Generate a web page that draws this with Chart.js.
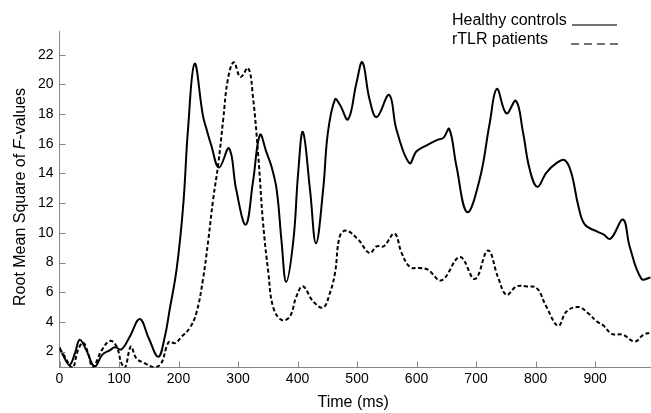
<!DOCTYPE html>
<html>
<head>
<meta charset="utf-8">
<script src="https://cdn.jsdelivr.net/npm/chart.js@4/dist/chart.umd.min.js"></script>
<style>
  html, body { margin: 0; padding: 0; background: #fff; }
  #wrap { width: 651px; height: 413px; position: relative; }
</style>
</head>
<body>
<div id="wrap"><canvas id="chart"></canvas></div>
<script>
// time points (ms) and RMS of F-values
const healthyTime = [0, 8, 17, 26, 34, 45, 59, 72, 85, 93, 104, 118, 135, 150, 166, 177, 185, 197, 208, 216, 227, 241, 247, 255, 268, 285, 297, 313, 325, 337, 348, 356, 365, 373, 381, 393, 401, 409, 421, 431, 443, 451, 463, 471, 485, 499, 509, 521, 533, 554, 566, 588, 600, 617, 634, 645, 655, 667, 685, 706, 723, 735, 751, 767, 779, 790, 803, 818, 835, 849, 860, 872, 883, 903, 914, 926, 947, 958, 978, 993];
const healthyValues = [2.3, 1.6, 1.1, 1.9, 2.8, 2.1, 1.0, 1.8, 2.1, 2.3, 2.15, 3.0, 4.2, 2.9, 1.65, 3.0, 4.8, 7.6, 11.9, 17.0, 21.4, 17.9, 17.0, 15.9, 14.4, 15.7, 12.9, 10.55, 13.4, 16.6, 15.4, 14.5, 12.9, 9.5, 6.7, 9.5, 14.0, 16.8, 12.9, 9.3, 12.9, 16.75, 19.0, 18.65, 17.65, 20.1, 21.5, 19.0, 17.8, 19.3, 17.0, 14.7, 15.5, 15.9, 16.25, 16.4, 17.0, 14.5, 11.4, 13.6, 17.4, 19.7, 18.05, 18.9, 16.75, 14.3, 13.1, 14.05, 14.7, 14.9, 14.05, 11.8, 10.55, 10.1, 9.9, 9.6, 10.9, 9.1, 6.9, 7.0];

const patientTime = [0, 9, 18, 23, 31, 40, 48, 56, 71, 85, 96, 104, 110, 120, 129, 143, 160, 171, 180, 185, 194, 205, 219, 230, 241, 250, 258, 267, 275, 283, 293, 304, 317, 325, 334, 342, 351, 359, 373, 387, 398, 409, 426, 443, 454, 463, 471, 482, 502, 521, 533, 545, 563, 575, 589, 606, 619, 642, 673, 698, 720, 737, 751, 768, 785, 802, 818, 838, 852, 872, 888, 903, 914, 928, 947, 967, 981, 993];
const patientValues = [2.2, 1.66, 1.0, 0.9, 2.1, 2.6, 1.9, 0.95, 2.1, 2.72, 2.34, 1.22, 0.9, 2.34, 1.55, 1.22, 0.95, 1.22, 2.34, 2.68, 2.57, 3.0, 3.6, 4.6, 6.84, 9.5, 12.2, 14.7, 17.6, 20.35, 21.5, 20.5, 21.1, 19.2, 15.2, 10.7, 7.3, 5.0, 4.14, 4.36, 5.7, 6.4, 5.4, 4.97, 5.9, 7.3, 9.77, 10.15, 9.54, 8.64, 9.09, 9.1, 9.95, 8.64, 7.7, 7.63, 7.52, 6.8, 8.37, 6.89, 8.82, 7.0, 5.83, 6.39, 6.39, 6.28, 5.04, 3.74, 4.7, 5.0, 4.6, 4.03, 3.76, 3.2, 3.13, 2.68, 3.13, 3.28];

const seriesLabels = ['Healthy controls', 'rTLR patients'];
const xTicks = [0, 100, 200, 300, 400, 500, 600, 700, 800, 900];
const yTicks = [2, 4, 6, 8, 10, 12, 14, 16, 18, 20, 22];

const FONT = '"Liberation Sans", Arial, sans-serif';
const AXIS_GREY = '#858585';

function toPoints(xs, ys) {
  return xs.map((x, i) => ({ x: x, y: ys[i] }));
}

// axis titles, inward tick marks and the text legend
const decorations = {
  id: 'decorations',
  afterDraw(chart) {
    const ctx = chart.ctx;
    const area = chart.chartArea;
    const xs = chart.scales.x;
    const ys = chart.scales.y;

    ctx.save();
    ctx.strokeStyle = AXIS_GREY;
    ctx.lineWidth = 1;
    ctx.beginPath();
    xTicks.forEach(v => {
      const px = Math.round(xs.getPixelForValue(v)) + 0.5;
      ctx.moveTo(px, area.bottom);
      ctx.lineTo(px, area.bottom - 6);
    });
    yTicks.forEach(v => {
      const py = Math.round(ys.getPixelForValue(v)) + 0.5;
      ctx.moveTo(area.left, py);
      ctx.lineTo(area.left + 6, py);
    });
    ctx.stroke();

    // x title
    ctx.fillStyle = '#000';
    ctx.font = '16px ' + FONT;
    ctx.textAlign = 'center';
    ctx.textBaseline = 'alphabetic';
    ctx.fillText('Time (ms)', (area.left + area.right) / 2 - 2, 407);

    // y title, "F" in italics
    const partA = 'Root Mean Square of ';
    const partB = 'F';
    const partC = '-values';
    ctx.translate(25, 197);
    ctx.rotate(-Math.PI / 2);
    ctx.textAlign = 'left';
    ctx.font = '16px ' + FONT;
    const wA = ctx.measureText(partA).width;
    const wC = ctx.measureText(partC).width;
    ctx.font = 'italic 16px ' + FONT;
    const wB = ctx.measureText(partB).width;
    let x0 = -(wA + wB + wC) / 2;
    ctx.font = '16px ' + FONT;
    ctx.fillText(partA, x0, 0);
    ctx.font = 'italic 16px ' + FONT;
    ctx.fillText(partB, x0 + wA, 0);
    ctx.font = '16px ' + FONT;
    ctx.fillText(partC, x0 + wA + wB, 0);
    ctx.restore();

    // legend
    ctx.save();
    ctx.fillStyle = '#000';
    ctx.font = '16px ' + FONT;
    ctx.textAlign = 'left';
    ctx.textBaseline = 'alphabetic';
    ctx.fillText(seriesLabels[0], 452, 25);
    ctx.fillText(seriesLabels[1], 452, 44);
    ctx.strokeStyle = '#444';
    ctx.lineWidth = 1.5;
    ctx.beginPath();
    ctx.moveTo(572, 25);
    ctx.lineTo(617, 25);
    ctx.stroke();
    ctx.setLineDash([8, 5]);
    ctx.beginPath();
    ctx.moveTo(571, 44);
    ctx.lineTo(622, 44);
    ctx.stroke();
    ctx.restore();
  }
};

const ctx = document.getElementById('chart').getContext('2d');
new Chart(ctx, {
  type: 'line',
  data: {
    datasets: [
      {
        label: seriesLabels[0],
        data: toPoints(healthyTime, healthyValues),
        borderColor: '#000',
        borderWidth: 2,
        tension: 0.4,
        pointRadius: 0,
        fill: false
      },
      {
        label: seriesLabels[1],
        data: toPoints(patientTime, patientValues),
        borderColor: '#000',
        borderWidth: 2,
        borderDash: [4, 2.5],
        tension: 0.4,
        pointRadius: 0,
        fill: false
      }
    ]
  },
  options: {
    responsive: true,
    maintainAspectRatio: false,
    animation: false,
    devicePixelRatio: 1,
    layout: { padding: { top: 31, right: 0, left: 0, bottom: 0 } },
    plugins: {
      legend: { display: false },
      tooltip: { enabled: false }
    },
    scales: {
      x: {
        type: 'linear',
        min: 0,
        max: 994,
        afterFit(scale) { scale.height = 45.5; },
        afterBuildTicks(scale) { scale.ticks = xTicks.map(v => ({ value: v })); },
        grid: { display: true, drawOnChartArea: false, drawTicks: false },
        border: { display: true, color: AXIS_GREY, width: 1 },
        ticks: {
          padding: 3,
          color: '#000',
          font: { family: FONT, size: 14 },
          maxRotation: 0
        }
      },
      y: {
        type: 'linear',
        min: 0.93,
        max: 23.6,
        afterFit(scale) { scale.width = 59.5; },
        afterBuildTicks(scale) { scale.ticks = yTicks.map(v => ({ value: v })); },
        grid: { display: true, drawOnChartArea: false, drawTicks: false },
        border: { display: true, color: AXIS_GREY, width: 1 },
        ticks: {
          padding: 6,
          color: '#000',
          font: { family: FONT, size: 14 }
        }
      }
    }
  },
  plugins: [decorations]
});
</script>
</body>
</html>
